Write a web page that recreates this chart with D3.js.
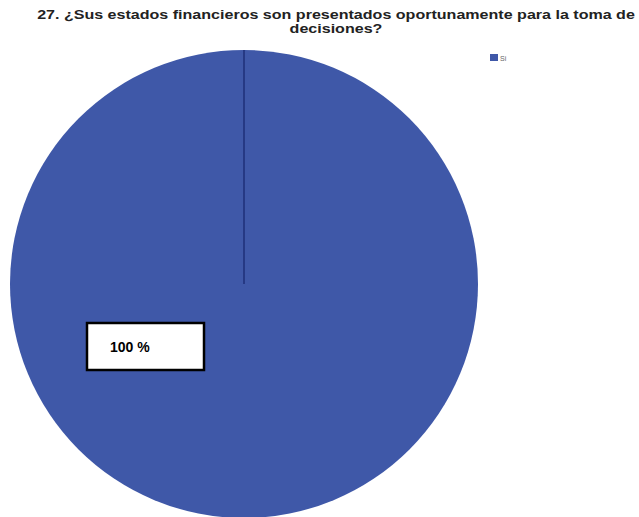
<!DOCTYPE html>
<html>
<head>
<meta charset="utf-8">
<script src="https://cdn.jsdelivr.net/npm/d3@7"></script>
<style>
  html, body { margin: 0; padding: 0; background: #ffffff; }
  svg { display: block; }
</style>
</head>
<body>
<svg id="chart" width="639" height="517"></svg>
<script>
// Survey answer categories and their shares (%)
const categories = ["Si"];
const values = [100];
const sliceLabels = ["100 %"];
const titleLines = [
  "27. ¿Sus estados financieros son presentados oportunamente para la toma de",
  "decisiones?"
];
const colors = ["#3f58a8"];

const svg = d3.select("#chart");
const cx = 244, cy = 284, r = 234;

// Pie
const pie = d3.pie().sort(null).value(d => d);
const arc = d3.arc().innerRadius(0).outerRadius(r);
const g = svg.append("g").attr("transform", `translate(${cx},${cy})`);
g.selectAll("path")
  .data(pie(values))
  .join("path")
  .attr("d", arc)
  .attr("fill", (d, i) => colors[i]);

// Slice boundary line (start angle) from centre to rim
pie(values).forEach(d => {
  const a = d.startAngle;
  g.append("line")
    .attr("x1", 0).attr("y1", 0)
    .attr("x2", r * Math.sin(a)).attr("y2", -r * Math.cos(a))
    .attr("stroke", "#1f2f78")
    .attr("stroke-width", 1.5);
});

// Title: two tight lines, glyphs widened horizontally
svg.selectAll("text.title")
  .data(titleLines)
  .join("text")
  .attr("class", "title")
  .attr("text-anchor", "middle")
  .attr("transform", (d, i) => `translate(336,${19 + i * 14}) scale(1.19,1)`)
  .attr("font-family", "Liberation Sans, Arial, sans-serif")
  .attr("font-weight", "bold")
  .attr("font-size", 13.5)
  .attr("fill", "#222")
  .text(d => d);

// Value label box
const box = svg.append("g").attr("transform", "translate(87,323)");
box.append("rect")
  .attr("x", 0).attr("y", 0)
  .attr("width", 117).attr("height", 47)
  .attr("fill", "#ffffff")
  .attr("stroke", "#000")
  .attr("stroke-width", 2.5);
box.append("text")
  .attr("x", 23).attr("y", 29)
  .attr("font-family", "Liberation Sans, Arial, sans-serif")
  .attr("font-weight", "bold")
  .attr("font-size", 14)
  .attr("fill", "#000")
  .text(sliceLabels[0]);

// Legend
const legend = svg.append("g").attr("transform", "translate(490,54)");
legend.selectAll("rect")
  .data(categories)
  .join("rect")
  .attr("x", 0).attr("y", (d, i) => i * 14)
  .attr("width", 8).attr("height", 7)
  .attr("fill", (d, i) => colors[i]);
legend.selectAll("text")
  .data(categories)
  .join("text")
  .attr("x", 10).attr("y", (d, i) => i * 14 + 7)
  .attr("font-family", "Liberation Sans, Arial, sans-serif")
  .attr("font-size", 7)
  .attr("fill", "#666")
  .text(d => d);
</script>
</body>
</html>
